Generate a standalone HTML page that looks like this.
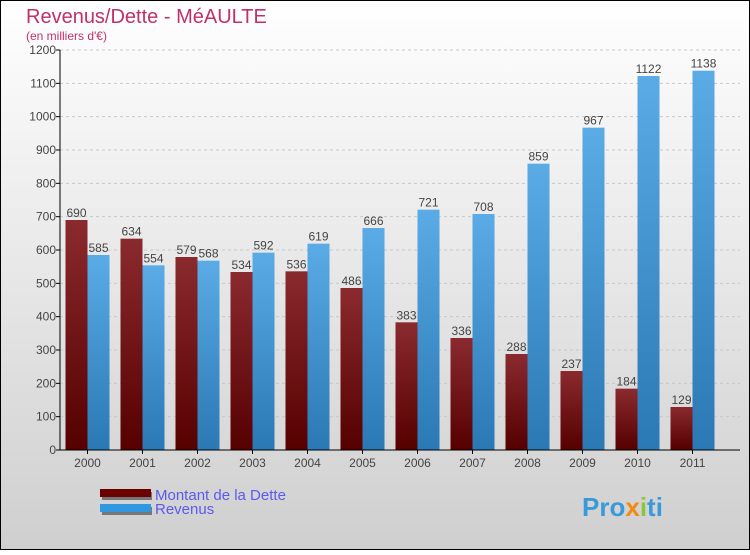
<!DOCTYPE html>
<html><head><meta charset="utf-8"><style>
html,body{margin:0;padding:0}
body{width:750px;height:550px;overflow:hidden;font-family:"Liberation Sans",sans-serif}
svg text{font-family:"Liberation Sans",sans-serif}
</style></head><body>
<svg id="chart" width="750" height="550" xmlns="http://www.w3.org/2000/svg">
<defs>
<linearGradient id="bg" x1="0" y1="0" x2="0" y2="1"><stop offset="0" stop-color="#ffffff"/><stop offset="1" stop-color="#cfcfcf"/></linearGradient>
<linearGradient id="gr" x1="0" y1="0" x2="0" y2="1"><stop offset="0" stop-color="#8a2a2e"/><stop offset="1" stop-color="#560000"/></linearGradient>
<linearGradient id="gb" x1="0" y1="0" x2="0" y2="1"><stop offset="0" stop-color="#5aabe6"/><stop offset="1" stop-color="#2a78b4"/></linearGradient>
</defs>
<rect x="0.5" y="0.5" width="749" height="549" fill="url(#bg)" stroke="#000"/>
<text x="26" y="23" font-size="20" fill="#c0306a">Revenus/Dette - MéAULTE</text>
<text x="26" y="40" font-size="12" fill="#c0306a">(en milliers d'€)</text>
<g id="grid"></g><g id="bars"></g><g id="axes"></g>
<g>
<rect x="102" y="492" width="50" height="8" fill="#777"/>
<rect x="100" y="489" width="51" height="8" fill="#6a0000"/>
<text x="155" y="500" font-size="15" fill="#5a5aee">Montant de la Dette</text>
<rect x="102" y="507" width="50" height="8" fill="#777"/>
<rect x="100" y="504" width="51" height="8" fill="#2f98e0"/>
<text x="155" y="514" font-size="15" fill="#5a5aee">Revenus</text>
</g>
<text x="582" y="516" font-size="26" font-weight="bold" fill="#3a9ad9">Pro<tspan fill="#f08a10">x</tspan><tspan fill="#8cc63f">i</tspan>ti</text>
</svg>
<script>
const categories=["2000","2001","2002","2003","2004","2005","2006","2007","2008","2009","2010","2011"];
const dette=[690,634,579,534,536,486,383,336,288,237,184,129];
const revenus=[585,554,568,592,619,666,721,708,859,967,1122,1138];
const yTicks=[0,100,200,300,400,500,600,700,800,900,1000,1100,1200];
const NS="http://www.w3.org/2000/svg";
const x0=60,y0=450,yMax=1200,plotH=400,step=55,bw=22;
const y=v=>y0-v/yMax*plotH;
const xc=i=>x0+step/2+step*i;
function mk(t,a,p){const e=document.createElementNS(NS,t);for(const k in a)e.setAttribute(k,a[k]);p.appendChild(e);return e;}
const grid=document.getElementById('grid'),bars=document.getElementById('bars'),axes=document.getElementById('axes');
yTicks.forEach(v=>{
 if(v>0){const g=mk('line',{x1:x0,x2:740,y1:y(v),y2:y(v),stroke:'#c8c8c8','stroke-dasharray':'3,3'},grid);
 
 }
 const t=mk('line',{x1:x0-4,x2:x0,y1:y(v),y2:y(v),stroke:'#000'},axes);
 
 
 const l=mk('text',{x:x0-4,y:y(v)+4,'font-size':12,'text-anchor':'end',fill:'#444'},axes);
 l.textContent=v;
 
 
});
categories.forEach((c,i)=>{
 const cx=xc(i);
 const r=mk('rect',{x:cx-bw,y:y(dette[i]),width:bw,height:y0-y(dette[i]),fill:'url(#gr)'},bars);
 
 
 const b=mk('rect',{x:cx,y:y(revenus[i]),width:bw,height:y0-y(revenus[i]),fill:'url(#gb)'},bars);
 
 
 const t1=mk('text',{x:cx-bw/2,y:y(dette[i])-3,'font-size':12,'text-anchor':'middle',fill:'#444'},bars);
 t1.textContent=dette[i];
 
 
 const t2=mk('text',{x:cx+bw/2,y:y(revenus[i])-3,'font-size':12,'text-anchor':'middle',fill:'#444'},bars);
 t2.textContent=revenus[i];
 
 
 const tk=mk('line',{x1:cx,x2:cx,y1:y0,y2:y0+4,stroke:'#000'},axes);
 
 
 const xl=mk('text',{x:cx,y:y0+17,'font-size':12,'text-anchor':'middle',fill:'#444'},axes);
 xl.textContent=c;
 
 
});
const ya=mk('line',{x1:x0,x2:x0,y1:y(yMax),y2:y0,stroke:'#000'},axes);


const xa=mk('line',{x1:x0-4,x2:740,y1:y0,y2:y0,stroke:'#000'},axes);


</script>
</body></html>
